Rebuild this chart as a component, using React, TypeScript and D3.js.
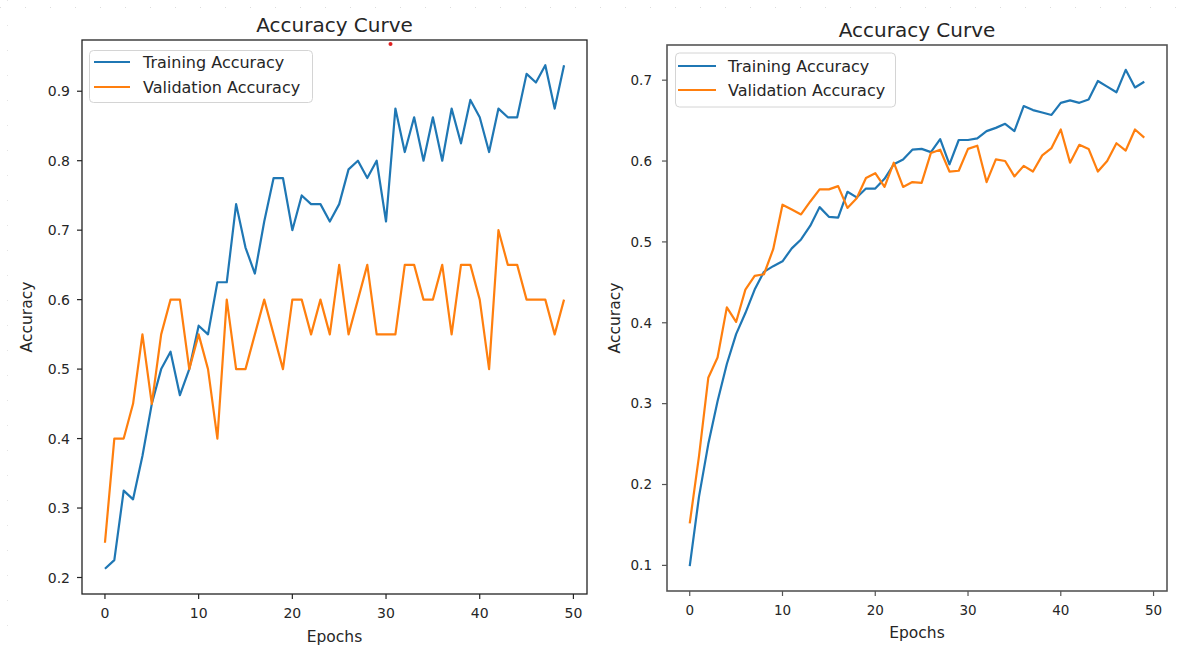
import React from "react";
import * as d3 from "d3";

const epochs = d3.range(50);

const leftTrain = [
  0.2125, 0.225, 0.325, 0.3125, 0.375, 0.45, 0.5, 0.525, 0.4625, 0.5,
  0.5625, 0.55, 0.625, 0.625, 0.7375, 0.675, 0.6375, 0.7125, 0.775, 0.775,
  0.7, 0.75, 0.7375, 0.7375, 0.7125, 0.7375, 0.7875, 0.8, 0.775, 0.8,
  0.7125, 0.875, 0.8125, 0.8625, 0.8, 0.8625, 0.8, 0.875, 0.825, 0.8875,
  0.8625, 0.8125, 0.875, 0.8625, 0.8625, 0.925, 0.9125, 0.9375, 0.875, 0.9375,
];
const leftVal = [
  0.25, 0.4, 0.4, 0.45, 0.55, 0.45, 0.55, 0.6, 0.6, 0.5,
  0.55, 0.5, 0.4, 0.6, 0.5, 0.5, 0.55, 0.6, 0.55, 0.5,
  0.6, 0.6, 0.55, 0.6, 0.55, 0.65, 0.55, 0.6, 0.65, 0.55,
  0.55, 0.55, 0.65, 0.65, 0.6, 0.6, 0.65, 0.55, 0.65, 0.65,
  0.6, 0.5, 0.7, 0.65, 0.65, 0.6, 0.6, 0.6, 0.55, 0.6,
];
const rightTrain = [
  0.099, 0.185, 0.25, 0.303, 0.349, 0.386, 0.412, 0.441, 0.463, 0.47,
  0.476, 0.492, 0.503, 0.52, 0.543, 0.531, 0.53, 0.562, 0.555, 0.566,
  0.566, 0.578, 0.596, 0.602, 0.614, 0.615, 0.611, 0.627, 0.596, 0.626,
  0.626, 0.628, 0.637, 0.641, 0.646, 0.637, 0.668, 0.663, 0.66, 0.657,
  0.672, 0.675, 0.672, 0.676, 0.699, 0.692, 0.685, 0.7128, 0.691, 0.698,
];
const rightVal = [
  0.152, 0.235, 0.332, 0.357, 0.419, 0.401, 0.441, 0.458, 0.46, 0.491,
  0.546, 0.54, 0.534, 0.55, 0.565, 0.565, 0.569, 0.542, 0.554, 0.579,
  0.585, 0.568, 0.598, 0.568, 0.574, 0.573, 0.61, 0.614, 0.587, 0.588,
  0.615, 0.619, 0.574, 0.602, 0.6, 0.581, 0.594, 0.587, 0.607, 0.616,
  0.639, 0.598, 0.62, 0.615, 0.587, 0.6, 0.622, 0.613, 0.639, 0.629,
];

const xTicks = [0, 10, 20, 30, 40, 50];
const leftYTicks = [0.2, 0.3, 0.4, 0.5, 0.6, 0.7, 0.8, 0.9];
const rightYTicks = [0.1, 0.2, 0.3, 0.4, 0.5, 0.6, 0.7];
const seriesNames = ["Training Accuracy", "Validation Accuracy"];
const titleText = "Accuracy Curve";
const xLabel = "Epochs";
const yLabel = "Accuracy";

const BLUE = "#1f77b4";
const ORANGE = "#ff7f0e";
const TEXT = "#262626";
const FONT = "'DejaVu Sans', sans-serif";

type PanelProps = {
  train: number[];
  val: number[];
  yTicks: number[];
  box: { x0: number; x1: number; y0: number; y1: number };
  titleY: number;
  spineColor: string;
  spineWidth: number;
  tickFont: number;
  legend: { x: number; y: number; w: number; h: number; hx0: number; hx1: number; r1: number; r2: number; tx: number };
  xLabelY: number;
  yLabelX: number;
  xTickY: number;
  yTickGap: number;
};

function Panel(p: PanelProps) {
  const { box } = p;
  const all = [...p.train, ...p.val];
  const [mn, mx] = d3.extent(all) as [number, number];
  const m = (mx - mn) * 0.05;
  const xm = (49 - 0) * 0.05;
  const x = d3.scaleLinear().domain([0 - xm, 49 + xm]).range([box.x0, box.x1]);
  const y = d3.scaleLinear().domain([mn - m, mx + m]).range([box.y1, box.y0]);
  const line = d3
    .line<number>()
    .x((_, i) => x(epochs[i]))
    .y((d) => y(d));
  const cx = (box.x0 + box.x1) / 2;
  const cy = (box.y0 + box.y1) / 2;
  const lg = p.legend;
  return (
    <g fontFamily={FONT}>
      <text x={cx} y={p.titleY} textAnchor="middle" fontSize={20} fill={TEXT}>
        {titleText}
      </text>
      <path d={line(p.train) || ""} fill="none" stroke={BLUE} strokeWidth={2.2} strokeLinejoin="round" />
      <path d={line(p.val) || ""} fill="none" stroke={ORANGE} strokeWidth={2.2} strokeLinejoin="round" />
      <rect
        x={box.x0}
        y={box.y0}
        width={box.x1 - box.x0}
        height={box.y1 - box.y0}
        fill="none"
        stroke={p.spineColor}
        strokeWidth={p.spineWidth}
      />
      {p.yTicks.map((t) => (
        <g key={"y" + t}>
          <line x1={box.x0 - 5} x2={box.x0} y1={y(t)} y2={y(t)} stroke={p.spineColor} strokeWidth={1.2} />
          <text
            x={box.x0 - p.yTickGap}
            y={y(t)}
            dy="0.36em"
            textAnchor="end"
            fontSize={p.tickFont}
            fill={TEXT}
          >
            {d3.format(".1f")(t)}
          </text>
        </g>
      ))}
      {xTicks.map((t) => (
        <g key={"x" + t}>
          <line x1={x(t)} x2={x(t)} y1={box.y1} y2={box.y1 + 5} stroke={p.spineColor} strokeWidth={1.2} />
          <text x={x(t)} y={p.xTickY} textAnchor="middle" fontSize={p.tickFont} fill={TEXT}>
            {t}
          </text>
        </g>
      ))}
      <text x={cx} y={p.xLabelY} textAnchor="middle" fontSize={15.5} fill={TEXT}>
        {xLabel}
      </text>
      <text
        transform={`translate(${p.yLabelX},${cy}) rotate(-90)`}
        textAnchor="middle"
        fontSize={15.5}
        fill={TEXT}
      >
        {yLabel}
      </text>
      <rect x={lg.x} y={lg.y} width={lg.w} height={lg.h} rx={4} fill="white" fillOpacity={0.8} stroke="#d4d4d4" strokeWidth={1} />
      {[lg.r1, lg.r2].map((ry, i) => (
        <g key={"lg" + i}>
          <line x1={lg.hx0} x2={lg.hx1} y1={ry} y2={ry} stroke={i === 0 ? BLUE : ORANGE} strokeWidth={2.2} />
          <text x={lg.tx} y={ry} dy="0.36em" fontSize={16} fill={TEXT}>
            {seriesNames[i]}
          </text>
        </g>
      ))}
    </g>
  );
}

export default function App() {
  return (
    <svg
      width={1199}
      height={650}
      style={{ position: "absolute", left: 0, top: 0, background: "white" }}
    >
      <rect x={0} y={0} width={1199} height={650} fill="white" />
      <line x1={0} x2={1199} y1={7.5} y2={7.5} stroke="#dcdcdc" strokeWidth={1} strokeDasharray="1 24" />
      <line x1={7.5} x2={7.5} y1={0} y2={650} stroke="#e4e4e4" strokeWidth={1} strokeDasharray="1 24" />
      <Panel
        train={leftTrain}
        val={leftVal}
        yTicks={leftYTicks}
        box={{ x0: 82, x1: 587, y0: 40, y1: 594 }}
        titleY={32}
        spineColor="#222"
        spineWidth={1.3}
        tickFont={14}
        legend={{ x: 89.5, y: 50.5, w: 223, h: 52, hx0: 94, hx1: 130, r1: 62, r2: 87, tx: 143 }}
        xLabelY={642}
        yLabelX={32}
        xTickY={618}
        yTickGap={12}
      />
      <Panel
        train={rightTrain}
        val={rightVal}
        yTicks={rightYTicks}
        box={{ x0: 667, x1: 1167, y0: 45, y1: 591 }}
        titleY={37}
        spineColor="#555"
        spineWidth={1.6}
        tickFont={13.5}
        legend={{ x: 675.5, y: 53, w: 220, h: 54, hx0: 678, hx1: 716, r1: 66, r2: 90, tx: 728 }}
        xLabelY={638}
        yLabelX={620}
        xTickY={615}
        yTickGap={15}
      />
      <circle cx={390.5} cy={44} r={2} fill="#e02020" />
    </svg>
  );
}
